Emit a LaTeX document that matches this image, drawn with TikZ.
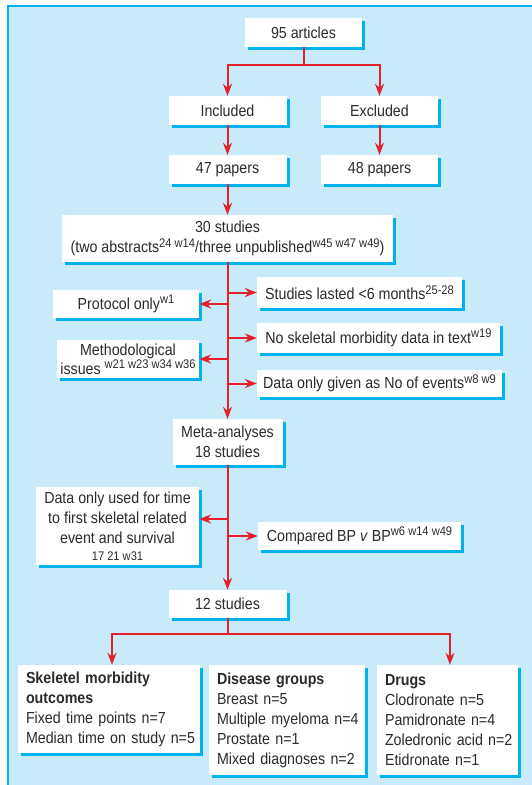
\documentclass[tikz,border=0pt]{standalone}
\usepackage{fontspec}
\setmainfont{Liberation Sans}[FakeStretch=0.89]
\usetikzlibrary{arrows.meta,shadows}
\definecolor{bgblue}{HTML}{C8EAF9}
\definecolor{framec}{HTML}{00B2EE}
\definecolor{shadc}{HTML}{00B2EE}
\definecolor{redc}{HTML}{E5202A}
\definecolor{txt}{HTML}{2B2B2B}
\newcommand\sups[1]{\raisebox{0.65ex}{\fontsize{12.5}{12.5}\selectfont #1}}
\begin{document}
\begin{tikzpicture}[x=1pt,y=-1pt,
 box/.style={fill=white, inner sep=0pt, text=txt, align=center,
   font=\fontsize{16}{20}\selectfont,
   drop shadow={shadow xshift=3pt, shadow yshift=-3pt, fill=shadc, opacity=1}},
 lbox/.style={box, align=left, inner xsep=8pt},
 conn/.style={draw=redc, line width=2pt, -{Stealth[length=12pt,width=9pt,inset=4pt]}},
 trunk/.style={draw=redc, line width=2pt}]
\useasboundingbox (0,0) rectangle (532,785);
\fill[bgblue] (8,6) rectangle (532,785);
\draw[framec, line width=1.5pt] (8,785) -- (8,6) -- (532,6);

\node[box, minimum width=117pt, minimum height=29pt] (art) at (303.5,32.5) {95 articles};
\node[box, minimum width=118pt, minimum height=29pt] (inc) at (227.5,110.5) {Included};
\node[box, minimum width=117pt, minimum height=29pt] (exc) at (379.5,110.5) {Excluded};
\node[box, minimum width=118pt, minimum height=29pt] (p47) at (227.5,169.5) {47 papers};
\node[box, minimum width=117pt, minimum height=29pt] (p48) at (379.5,169.5) {48 papers};
\node[box, minimum width=331pt, minimum height=47pt] (s30) at (227.5,238.5)
  {30 studies\\(two abstracts\sups{24 w14}/three unpublished\sups{w45 w47 w49})};
\node[box, minimum width=205pt, minimum height=31pt] (short) at (359.5,292.5)
  {Studies lasted <6 months\sups{25-28}};
\node[box, minimum width=146pt, minimum height=28pt] (proto) at (126,304)
  {Protocol only\sups{w1}};
\node[box, minimum width=243pt, minimum height=30pt] (noskel) at (378.5,338)
  {No skeletal morbidity data in text\sups{w19}};
\node[box, minimum width=142pt, minimum height=38pt] (meth) at (128,359)
  {Methodological\\[-1pt]issues \sups{w21 w23 w34 w36}};
\node[box, minimum width=245pt, minimum height=27pt] (dataev) at (379.5,383.5)
  {Data only given as No of events\sups{w8 w9}};
\node[box, minimum width=110pt, minimum height=46pt] (meta) at (227.5,442)
  {Meta-analyses\\18 studies};
\node[box, minimum width=163pt, minimum height=78pt] (tfs) at (117.5,526)
  {Data only used for time\\to first skeletal related\\event and survival\\[-3pt]{\fontsize{12.5}{13}\selectfont 17 21 w31}};
\node[box, minimum width=203pt, minimum height=28pt] (comp) at (359.5,536)
  {Compared BP \textit{v} BP\sups{w6 w14 w49}};
\node[box, minimum width=118pt, minimum height=28pt] (s12) at (227.5,604) {12 studies};

\node[lbox, text width=166pt, minimum height=88pt] (skel) at (109,709)
  {\mbox{\textbf{Skeletel morbidity}}\\\mbox{\textbf{outcomes}}\\\mbox{Fixed time points n=7}\\\mbox{Median time on study n=5}};
\node[lbox, text width=140pt, minimum height=110pt] (dis) at (287,720)
  {\mbox{\textbf{Disease groups}}\\\mbox{Breast n=5}\\\mbox{Multiple myeloma n=4}\\\mbox{Prostate n=1}\\\mbox{Mixed diagnoses n=2}};
\node[lbox, text width=125pt, minimum height=110pt] (drugs) at (447.5,720)
  {\mbox{\textbf{Drugs}}\\\mbox{Clodronate n=5}\\\mbox{Pamidronate n=4}\\\mbox{Zoledronic acid n=2}\\\mbox{Etidronate n=1}};

\coordinate (j1) at (303.5,65);
\draw[trunk] (art.south) -- (j1);
\draw[conn] (j1) -| (inc.north);
\draw[conn] (j1) -| (exc.north);
\draw[conn] (inc.south) -- (p47.north);
\draw[conn] (exc.south) -- (p48.north);
\draw[conn] (p47.south) -- (s30.north);
\draw[conn] (s30.south) -- (meta.north);
\draw[conn] (s30.south |- short.west) -- (short.west);
\draw[conn] (s30.south |- proto.east) -- (proto.east);
\draw[conn] (s30.south |- noskel.west) -- (noskel.west);
\draw[conn] (s30.south |- meth.east) -- (meth.east);
\draw[conn] (s30.south |- dataev.west) -- (dataev.west);
\coordinate (tfsE) at ([yshift=7pt]tfs.east);
\draw[conn] (meta.south |- tfsE) -- (tfsE);
\draw[conn] (meta.south |- comp.west) -- (comp.west);
\draw[conn] (meta.south) -- (s12.north);
\coordinate (j3) at (227.5,634);
\draw[trunk] (s12.south) -- (j3);
\draw[conn] (j3) -| ([xshift=3pt]skel.north);
\draw[conn] (j3) -| ([xshift=2.5pt]drugs.north);
\end{tikzpicture}
\end{document}
